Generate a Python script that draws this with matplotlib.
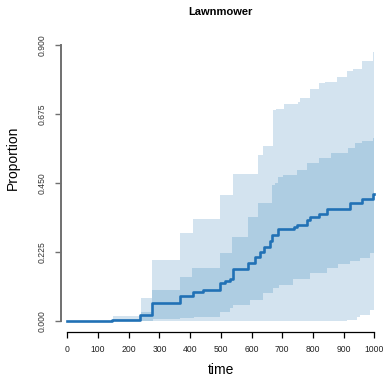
import matplotlib
matplotlib.use("Agg")
import matplotlib.pyplot as plt
import numpy as np

plt.rcParams['font.family'] = ['Liberation Sans', 'DejaVu Sans']

# Median curve (step breakpoints)
median_t = [0, 145, 237, 277, 367, 408, 443, 497, 514, 530, 541, 590, 611, 628,
            640, 660, 668, 687, 737, 747, 780, 790, 818, 845, 921, 959, 997, 1000]
median_v = [0.0, 0.004, 0.02, 0.058, 0.082, 0.094, 0.101, 0.123, 0.13, 0.136, 0.169,
            0.19, 0.21, 0.225, 0.242, 0.262, 0.28, 0.299, 0.306, 0.313, 0.329, 0.34,
            0.348, 0.365, 0.386, 0.397, 0.414, 0.414]

# Outer band (light)
outer_hi_t = [0, 150, 240, 277, 367, 408, 497, 541, 622, 638, 671, 680, 704, 752,
              758, 790, 818, 840, 877, 910, 930, 959, 997, 1000]
outer_hi_v = [0.0, 0.016, 0.075, 0.2, 0.286, 0.332, 0.41, 0.478, 0.541, 0.572,
              0.688, 0.693, 0.707, 0.715, 0.726, 0.755, 0.775, 0.78, 0.795, 0.815,
              0.821, 0.847, 0.878, 0.878]
outer_lo_t = [0, 910, 943, 953, 986, 1000]
outer_lo_v = [0.0, 0.004, 0.012, 0.02, 0.036, 0.045]

# Inner band (darker)
inner_hi_t = [0, 150, 240, 277, 367, 405, 497, 535, 590, 622, 665, 676, 687, 702,
              747, 780, 818, 860, 915, 937, 959, 997, 1000]
inner_hi_v = [0.0, 0.006, 0.03, 0.101, 0.144, 0.172, 0.221, 0.275, 0.34, 0.386,
              0.443, 0.45, 0.47, 0.476, 0.492, 0.514, 0.53, 0.547, 0.563, 0.579,
              0.587, 0.596, 0.596]
inner_lo_t = [0, 280, 367, 411, 497, 530, 541, 595, 638, 671, 690, 736, 790,
              845, 883, 921, 953, 986, 1000]
inner_lo_v = [0.0, 0.005, 0.009, 0.014, 0.028, 0.041, 0.052, 0.068, 0.09, 0.107,
              0.117, 0.136, 0.155, 0.172, 0.186, 0.197, 0.204, 0.223, 0.223]

x_ticks = [0, 100, 200, 300, 400, 500, 600, 700, 800, 900, 1000]
y_ticks = [0.0, 0.225, 0.45, 0.675, 0.9]


def step_path(t, v):
    xs, ys = [], []
    for i in range(len(t)):
        if i > 0:
            xs.append(t[i])
            ys.append(v[i - 1])
        xs.append(t[i])
        ys.append(v[i])
    return xs, ys


def band(ax, hi_t, hi_v, lo_t, lo_v, color):
    hx, hy = step_path(hi_t, hi_v)
    lx, ly = step_path(lo_t, lo_v)
    ax.fill(hx + lx[::-1], hy + ly[::-1], color=color, lw=0)


fig = plt.figure(figsize=(3.87, 3.78), dpi=100)
W, H = 387, 378
ax = fig.add_axes([61 / W, (H - 332) / H, (W - 61) / W, (332 - 34) / H])

band(ax, outer_hi_t, outer_hi_v, outer_lo_t, outer_lo_v, '#d3e3ef')
band(ax, inner_hi_t, inner_hi_v, inner_lo_t, inner_lo_v, '#aecde2')
ax.plot(median_t, median_v, drawstyle='steps-post', color='#2171b5', lw=1.9)

ax.set_xlim(-20.5, 1041)
ax.set_ylim(-0.036, 0.936)

for s in ['top', 'right']:
    ax.spines[s].set_visible(False)
ax.spines['left'].set_bounds(0, 0.9)
ax.spines['left'].set_color('#707070')
ax.spines['left'].set_linewidth(1.4)
ax.spines['bottom'].set_bounds(0, 1000)
ax.spines['bottom'].set_linewidth(0.9)

ax.set_xticks(x_ticks)
ax.set_xticklabels([str(t) for t in x_ticks], fontsize=6.2, color='#222222')
ax.set_yticks(y_ticks)
ax.set_yticklabels([f"{t:.3f}" for t in y_ticks], fontsize=6.2, rotation=90,
                   va='center', color='#333333')
ax.tick_params(axis='x', length=4, width=0.9, pad=5)
ax.tick_params(axis='y', length=4.3, width=1.0, color='#707070', pad=6)

fig.text(220.7 / W, 1 - 12 / H, 'Lawnmower', fontsize=8, fontweight='bold',
         ha='center', va='center')
fig.text(220.7 / W, 1 - 370 / H, 'time', fontsize=10, ha='center', va='center')
fig.text(13 / W, 1 - 158 / H, 'Proportion', fontsize=10, rotation=90,
         ha='center', va='center')

fig.savefig('out.png', dpi=100)
